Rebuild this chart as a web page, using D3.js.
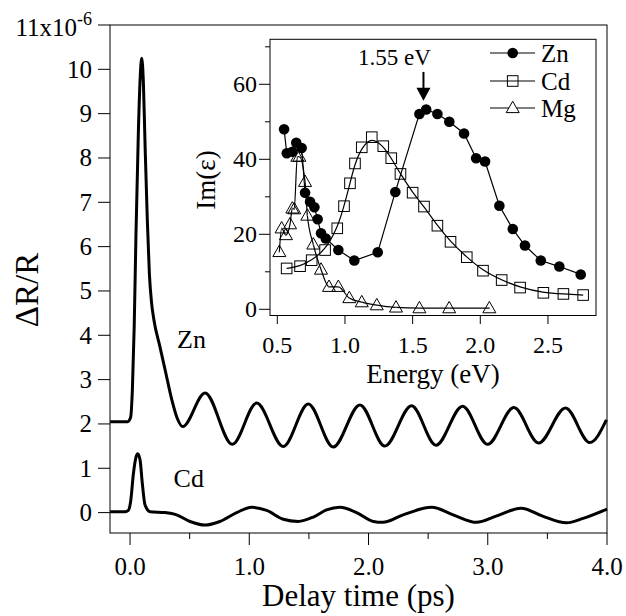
<!DOCTYPE html>
<html><head><meta charset="utf-8">
<script src="https://cdn.jsdelivr.net/npm/d3@7"></script>
<style>
html,body{margin:0;padding:0;background:#fff;}
text{font-family:"Liberation Serif","Times New Roman",serif;fill:#000;}
</style></head>
<body>
<svg id="chart" width="626" height="616"></svg>
<script>
// ---------- Main panel data: ΔR/R (x10^-6) vs delay time (ps) ----------
const znTrace = [
  [-0.167,2.05],[-0.02,2.05],[0.005,2.15],[0.02,2.8],[0.035,4.2],[0.05,6.3],[0.07,8.6],
  [0.085,9.8],[0.098,10.25],[0.112,9.7],[0.127,8.2],[0.145,6.6],[0.162,5.4],[0.18,4.75],
  [0.2,4.35],[0.25,3.75],[0.3,3.15],[0.35,2.55],[0.4,2.1],[0.441,1.94],[0.629,2.70],
  [0.858,1.54],[1.062,2.47],[1.285,1.49],[1.495,2.45],[1.704,1.48],[1.928,2.43],
  [2.137,1.50],[2.361,2.41],[2.566,1.52],[2.789,2.40],[2.999,1.54],[3.219,2.37],
  [3.427,1.57],[3.652,2.36],[3.856,1.58],[3.995,2.09]
];
const cdTrace = [
  [-0.167,0.02],[-0.042,0.02],[-0.014,0.05],[0.006,0.27],[0.028,0.87],[0.05,1.25],
  [0.064,1.33],[0.084,1.19],[0.103,0.66],[0.126,0.17],[0.168,0.02],[0.293,0.0],
  [0.39,-0.05],[0.503,-0.2],[0.629,-0.28],[0.754,-0.2],[0.894,0.0],[1.02,0.12],
  [1.146,0.05],[1.285,-0.15],[1.41,-0.2],[1.537,-0.1],[1.648,0.06],[1.76,0.12],
  [1.9,0.0],[2.04,-0.2],[2.12,-0.22],[2.29,-0.05],[2.53,0.12],[2.71,-0.05],
  [2.906,-0.22],[3.07,-0.08],[3.28,0.10],[3.46,-0.08],[3.66,-0.23],[3.80,-0.13],[4.0,0.08]
];
const mainXTicks = [0,1,2,3,4];
const mainXMinor = [0.5,1.5,2.5,3.5];
const mainYTicks = [0,1,2,3,4,5,6,7,8,9,10];
const mainSeriesLabels = [["Zn",0.394,3.72],["Cd",0.365,0.58]];

// ---------- Inset data: Im(ε) vs energy (eV) ----------
const znEps = [
  [0.55,48.0],[0.57,41.6],[0.611,42.0],[0.64,44.4],[0.68,43.0],[0.705,31.1],[0.742,28.7],
  [0.774,27.2],[0.798,24.0],[0.823,20.3],[0.858,18.9],[0.951,15.8],[1.069,13.0],
  [1.242,15.2],[1.372,31.3],[1.55,52.1],[1.60,53.3],[1.683,52.1],[1.771,50.0],
  [1.88,46.9],[1.969,40.3],[2.035,39.4],[2.141,27.6],[2.24,21.4],[2.33,17.0],
  [2.447,13.0],[2.584,11.4],[2.742,9.3]
];
const cdEps = [
  [0.569,10.9],[0.668,11.5],[0.754,13.1],[0.853,15.8],[0.943,21.6],[0.993,27.5],
  [1.037,33.6],[1.074,38.9],[1.124,43.2],[1.198,45.9],[1.283,43.5],[1.342,40.3],
  [1.41,36.1],[1.50,31.1],[1.584,27.4],[1.683,22.3],[1.78,18.0],[1.90,13.9],
  [2.02,10.3],[2.158,7.8],[2.294,5.8],[2.466,4.4],[2.614,4.1],[2.76,3.8]
];
const mgEps = [
  [0.515,15.3],[0.532,21.6],[0.564,19.8],[0.594,22.7],[0.611,26.9],[0.625,26.7],
  [0.648,40.7],[0.663,40.7],[0.705,34.0],[0.722,25.0],[0.766,17.3],[0.823,10.6],
  [0.882,6.0],[0.951,6.0],[1.032,3.0],[1.124,1.9],[1.235,1.1],[1.377,0.5],
  [1.55,0.3],[1.77,0.3],[2.067,0.3]
];
const insetXTicks = [0.5,1.0,1.5,2.0,2.5];
const insetYTicks = [0,20,40,60];
const insetYMinor = [10,30,50,70];
const legendNames = ["Zn","Cd","Mg"];
const arrowEnergy = 1.58, arrowTop = 63.3, arrowTip = 55.6;
const arrowText = "1.55 eV";

// ---------- Drawing ----------
const svg = d3.select("#chart");
svg.append("rect").attr("width",626).attr("height",616).attr("fill","#fff");

// Main scales
const x = d3.scaleLinear().domain([-0.168,4.0]).range([110,607]);
const y = d3.scaleLinear().domain([-0.46,11]).range([533,25]);

const main = svg.append("g");
main.append("rect").attr("x",110).attr("y",25).attr("width",497).attr("height",508)
  .attr("fill","none").attr("stroke","#000").attr("stroke-width",1);

// Axes
const xAxis = main.append("g").attr("transform","translate(0,533)");
xAxis.selectAll("line.maj").data(mainXTicks).join("line").attr("class","maj")
  .attr("x1",d=>x(d)).attr("x2",d=>x(d)).attr("y1",0).attr("y2",12).attr("stroke","#000");
xAxis.selectAll("line.min").data(mainXMinor).join("line").attr("class","min")
  .attr("x1",d=>x(d)).attr("x2",d=>x(d)).attr("y1",0).attr("y2",6).attr("stroke","#000");
xAxis.selectAll("text").data(mainXTicks).join("text")
  .attr("x",d=>x(d)).attr("y",42).attr("text-anchor","middle").attr("font-size",25)
  .text(d=>d3.format(".1f")(d));

const yAxis = main.append("g");
yAxis.selectAll("line").data(mainYTicks.concat([11])).join("line")
  .attr("x1",98).attr("x2",110).attr("y1",d=>y(d)).attr("y2",d=>y(d)).attr("stroke","#000");
yAxis.selectAll("text.yl").data(mainYTicks).join("text").attr("class","yl")
  .attr("x",92).attr("y",d=>y(d)).attr("dy","0.34em").attr("text-anchor","end")
  .attr("font-size",25).text(d=>d);
const topLabel = yAxis.append("text").attr("x",92).attr("y",y(11)).attr("dy","0.42em")
  .attr("text-anchor","end").attr("font-size",25);
topLabel.append("tspan").text("11x10");
topLabel.append("tspan").attr("dy",-11).attr("font-size",18).text("-6");

svg.append("text").attr("x",358.5).attr("y",606).attr("text-anchor","middle")
  .attr("font-size",31).text("Delay time (ps)");
svg.append("text").attr("transform","translate(38,290) rotate(-90)")
  .attr("text-anchor","middle").attr("font-size",33).text("ΔR/R");

const line = d3.line().x(d=>x(d[0])).y(d=>y(d[1])).curve(d3.curveMonotoneX);
main.append("path").datum(znTrace).attr("d",line).attr("fill","none")
  .attr("stroke","#000").attr("stroke-width",3).attr("stroke-linejoin","round");
main.append("path").datum(cdTrace).attr("d",line).attr("fill","none")
  .attr("stroke","#000").attr("stroke-width",3).attr("stroke-linejoin","round");
main.selectAll("text.lab").data(mainSeriesLabels).join("text").attr("class","lab")
  .attr("x",d=>x(d[1])).attr("y",d=>y(d[2])).attr("font-size",26).text(d=>d[0]);

// ---------- Inset ----------
const ix = d3.scaleLinear().domain([0.446,2.855]).range([270,596]);
const iy = d3.scaleLinear().domain([-1.65,72]).range([315.5,39.3]);
const ins = svg.append("g");
ins.append("rect").attr("x",270).attr("y",39.3).attr("width",326).attr("height",276.2)
  .attr("fill","#fff").attr("stroke","#000").attr("stroke-width",1);

ins.selectAll("line.ixt").data(insetXTicks).join("line").attr("class","ixt")
  .attr("x1",d=>ix(d)).attr("x2",d=>ix(d)).attr("y1",316).attr("y2",324).attr("stroke","#000");
ins.selectAll("text.ixl").data(insetXTicks).join("text").attr("class","ixl")
  .attr("x",d=>ix(d)).attr("y",353).attr("text-anchor","middle").attr("font-size",24)
  .text(d=>d3.format(".1f")(d));
ins.selectAll("line.iyt").data(insetYTicks).join("line").attr("class","iyt")
  .attr("x1",259).attr("x2",270).attr("y1",d=>iy(d)).attr("y2",d=>iy(d)).attr("stroke","#000");
ins.selectAll("line.iym").data(insetYMinor).join("line").attr("class","iym")
  .attr("x1",265).attr("x2",270).attr("y1",d=>iy(d)).attr("y2",d=>iy(d)).attr("stroke","#000");
ins.selectAll("text.iyl").data(insetYTicks).join("text").attr("class","iyl")
  .attr("x",257).attr("y",d=>iy(d)).attr("dy","0.34em").attr("text-anchor","end")
  .attr("font-size",24).text(d=>d);
svg.append("text").attr("x",433).attr("y",383).attr("text-anchor","middle")
  .attr("font-size",27).text("Energy (eV)");
svg.append("text").attr("transform","translate(215,180) rotate(-90)")
  .attr("text-anchor","middle").attr("font-size",27).text("Im(ε)");

const iline = d3.line().x(d=>ix(d[0])).y(d=>iy(d[1]));
const triPath = "M0,-6.8L6.5,4.6L-6.5,4.6Z";

// Zn
ins.append("path").datum(znEps).attr("d",iline).attr("fill","none").attr("stroke","#000").attr("stroke-width",1.2);
ins.selectAll("circle.zn").data(znEps).join("circle").attr("class","zn")
  .attr("cx",d=>ix(d[0])).attr("cy",d=>iy(d[1])).attr("r",5.3).attr("fill","#000");
// Cd
ins.append("path").datum(cdEps).attr("d",iline.curve(d3.curveBasis)).attr("fill","none").attr("stroke","#000").attr("stroke-width",1.2);
ins.selectAll("rect.cd").data(cdEps).join("rect").attr("class","cd")
  .attr("x",d=>ix(d[0])-5.3).attr("y",d=>iy(d[1])-5.3).attr("width",10.6).attr("height",10.6)
  .attr("fill","none").attr("stroke","#000").attr("stroke-width",1);
// Mg
ins.append("path").datum(mgEps).attr("d",iline.curve(d3.curveMonotoneX)).attr("fill","none").attr("stroke","#000").attr("stroke-width",1.2);
const mgG = ins.selectAll("g.mg").data(mgEps).join("g").attr("class","mg")
  .attr("transform",d=>`translate(${ix(d[0])},${iy(d[1])})`);
mgG.append("path").attr("d",triPath).attr("fill","none").attr("stroke","#000").attr("stroke-width",1);
mgG.append("circle").attr("r",0.7).attr("fill","#666");

// Arrow + label
ins.append("line").attr("x1",ix(arrowEnergy)).attr("x2",ix(arrowEnergy))
  .attr("y1",iy(arrowTop)).attr("y2",iy(arrowTip)-10).attr("stroke","#000").attr("stroke-width",2);
ins.append("path").attr("d",`M${ix(arrowEnergy)-7},${iy(arrowTip)-13}L${ix(arrowEnergy)+7},${iy(arrowTip)-13}L${ix(arrowEnergy)},${iy(arrowTip)}Z`).attr("fill","#000");
ins.append("text").attr("x",394.5).attr("y",65).attr("text-anchor","middle").attr("font-size",23).text(arrowText);

// Legend
const legY = [53,81,108];
const leg = ins.selectAll("g.leg").data(legendNames).join("g").attr("class","leg")
  .attr("transform",(d,i)=>`translate(0,${legY[i]})`);
leg.append("line").attr("x1",490).attr("x2",535).attr("stroke","#000").attr("stroke-width",1.2);
leg.append("text").attr("x",541).attr("dy","0.34em").attr("font-size",25).text(d=>d);
leg.filter(d=>d==="Zn").append("circle").attr("cx",512.7).attr("r",5.3).attr("fill","#000");
leg.filter(d=>d==="Cd").append("rect").attr("x",507.4).attr("y",-5.3).attr("width",10.6).attr("height",10.6)
  .attr("fill","none").attr("stroke","#000");
leg.filter(d=>d==="Mg").append("path").attr("transform","translate(512.7,0)").attr("d",triPath)
  .attr("fill","#fff").attr("stroke","#000");
</script>
</body></html>
